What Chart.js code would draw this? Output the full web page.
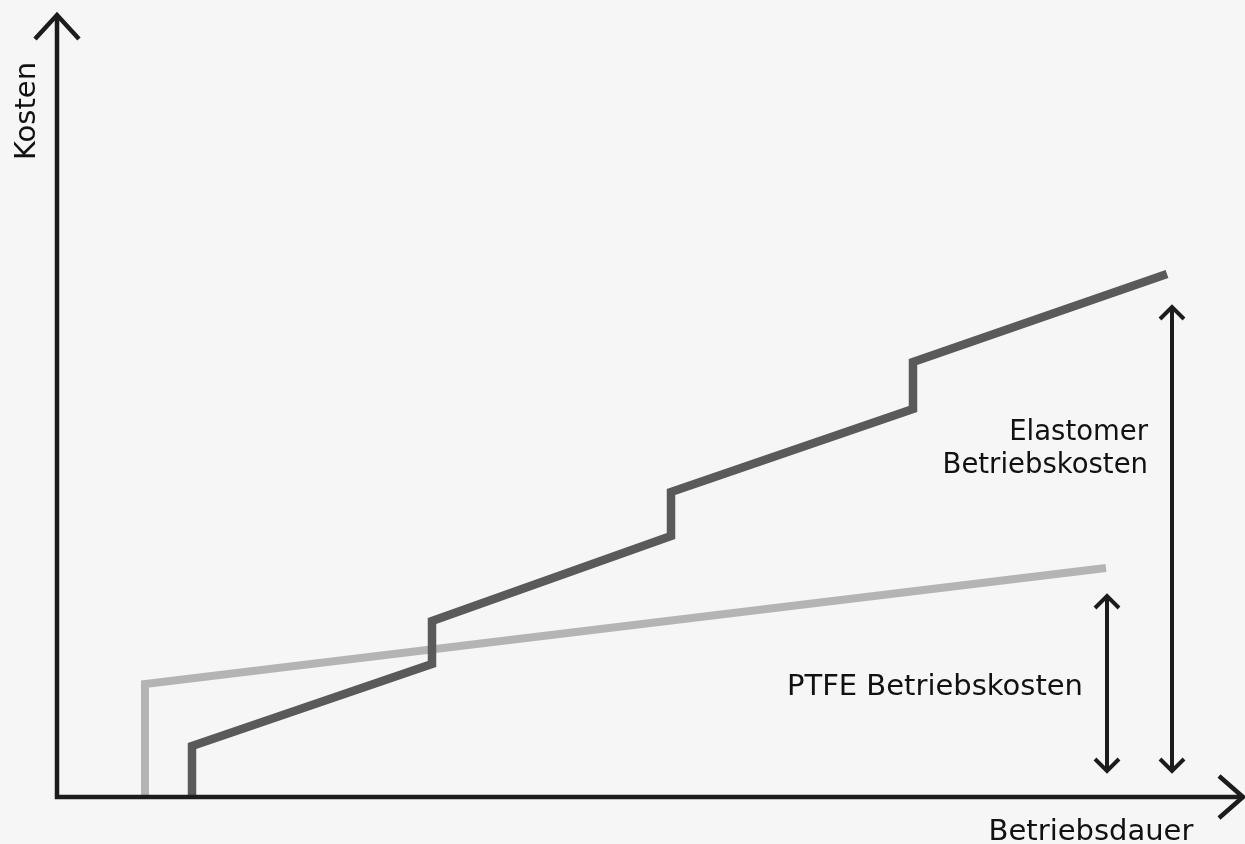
<!DOCTYPE html>
<html>
<head>
<meta charset="utf-8">
<script src="https://cdn.jsdelivr.net/npm/chart.js@4"></script>
<style>
  html, body { margin: 0; padding: 0; background: #f6f6f6; }
  #wrap { width: 1245px; height: 844px; }
  canvas { display: block; }
</style>
</head>
<body>
<div id="wrap"><canvas id="c" width="1245" height="844"></canvas></div>
<script>
// ---- data (arbitrary units: operating time vs. cost) ----
const elastomerX = [135, 135, 375, 375, 614, 614, 856, 856, 1110];
const elastomerY = [0, 51, 133, 176, 261, 305, 388, 435, 523];
const ptfeX = [88, 88, 1049];
const ptfeY = [0, 113, 229];

// double-headed cost arrows: x position, lower and upper value
const arrowNames = ["PTFE", "Elastomer"];
const arrowX = [1050, 1115];
const arrowLow = [26, 26];
const arrowHigh = [201, 490];

// annotation labels (lines), anchored to the arrows
const labelLines = [["PTFE Betriebskosten"], ["Elastomer", "Betriebskosten"]];
const labelY = [102, 357];

const xAxisTitle = "Betriebsdauer";
const yAxisTitle = "Kosten";
const xMax = 1188, yMax = 797;
const xAxisEnd = 1186, yAxisEnd = 782;

const FONT = "'DejaVu Sans', Verdana, sans-serif";

function toPts(xs, ys) { return xs.map((x, i) => ({ x: x, y: ys[i] })); }

function arrowHead(ctx, tx, ty, dir, w, h) {
  ctx.beginPath();
  if (dir === 'up') { ctx.moveTo(tx - w, ty + h); ctx.lineTo(tx, ty); ctx.lineTo(tx + w, ty + h); }
  else if (dir === 'down') { ctx.moveTo(tx - w, ty - h); ctx.lineTo(tx, ty); ctx.lineTo(tx + w, ty - h); }
  else if (dir === 'right') { ctx.moveTo(tx - h, ty - w); ctx.lineTo(tx, ty); ctx.lineTo(tx - h, ty + w); }
  ctx.stroke();
}

const decorPlugin = {
  id: 'decor',
  afterDatasetsDraw(chart) {
    const ctx = chart.ctx;
    const xs = chart.scales.x, ys = chart.scales.y;
    const ox = xs.getPixelForValue(0), oy = ys.getPixelForValue(0);
    ctx.save();
    ctx.strokeStyle = '#1c1c1c';
    ctx.lineJoin = 'miter';

    // main axes
    ctx.lineWidth = 4.5;
    ctx.lineCap = 'butt';
    const yTop = ys.getPixelForValue(yAxisEnd);
    const xRight = xs.getPixelForValue(xAxisEnd);
    ctx.beginPath();
    ctx.moveTo(ox, oy + 2.25); ctx.lineTo(ox, yTop);
    ctx.moveTo(ox - 2.25, oy); ctx.lineTo(xRight, oy);
    ctx.stroke();
    arrowHead(ctx, ox, yTop, 'up', 22, 24);
    arrowHead(ctx, xRight, oy, 'right', 21, 24);

    // cost arrows
    ctx.lineWidth = 4;
    for (let i = 0; i < arrowX.length; i++) {
      const px = xs.getPixelForValue(arrowX[i]);
      const p1 = ys.getPixelForValue(arrowLow[i]);
      const p2 = ys.getPixelForValue(arrowHigh[i]);
      ctx.beginPath(); ctx.moveTo(px, p1); ctx.lineTo(px, p2); ctx.stroke();
      arrowHead(ctx, px, p2, 'up', 12, 12);
      arrowHead(ctx, px, p1, 'down', 12, 12);
    }

    // labels
    ctx.fillStyle = '#111';
    ctx.textAlign = 'right';
    ctx.textBaseline = 'alphabetic';
    const sizes = [29, 27.5];
    for (let i = 0; i < labelLines.length; i++) {
      const px = xs.getPixelForValue(arrowX[i]) - 24;
      const lines = labelLines[i];
      ctx.font = sizes[i] + 'px ' + FONT;
      const lh = 33;
      const base = ys.getPixelForValue(labelY[i]);
      lines.forEach((t, k) => {
        ctx.fillText(t, px, base + k * lh);
      });
    }

    // axis titles
    ctx.font = '29px ' + FONT;
    ctx.textAlign = 'center';
    ctx.fillText(xAxisTitle, 1091, 840);
    ctx.save();
    ctx.translate(35, 111);
    ctx.rotate(-Math.PI / 2);
    ctx.textAlign = 'center';
    ctx.fillText(yAxisTitle, 0, 0);
    ctx.restore();

    ctx.restore();
  }
};

new Chart(document.getElementById('c'), {
  type: 'scatter',
  data: {
    datasets: [
      {
        label: 'Elastomer',
        data: toPts(elastomerX, elastomerY),
        showLine: true,
        borderColor: '#5a5a5a',
        borderWidth: 8.5,
        pointRadius: 0,
        tension: 0,
        borderJoinStyle: 'miter',
        borderCapStyle: 'butt',
        clip: false
      },
      {
        label: 'PTFE',
        data: toPts(ptfeX, ptfeY),
        showLine: true,
        borderColor: '#b4b4b4',
        borderWidth: 8,
        pointRadius: 0,
        tension: 0,
        borderJoinStyle: 'miter',
        borderCapStyle: 'butt',
        clip: false
      }
    ]
  },
  options: {
    responsive: false,
    devicePixelRatio: 1,
    animation: false,
    events: [],
    layout: { padding: { left: 57, right: 0, top: 0, bottom: 47 } },
    plugins: { legend: { display: false }, tooltip: { enabled: false } },
    scales: {
      x: { type: 'linear', display: false, min: 0, max: xMax },
      y: { type: 'linear', display: false, min: 0, max: yMax }
    }
  },
  plugins: [decorPlugin]
});
</script>
</body>
</html>
